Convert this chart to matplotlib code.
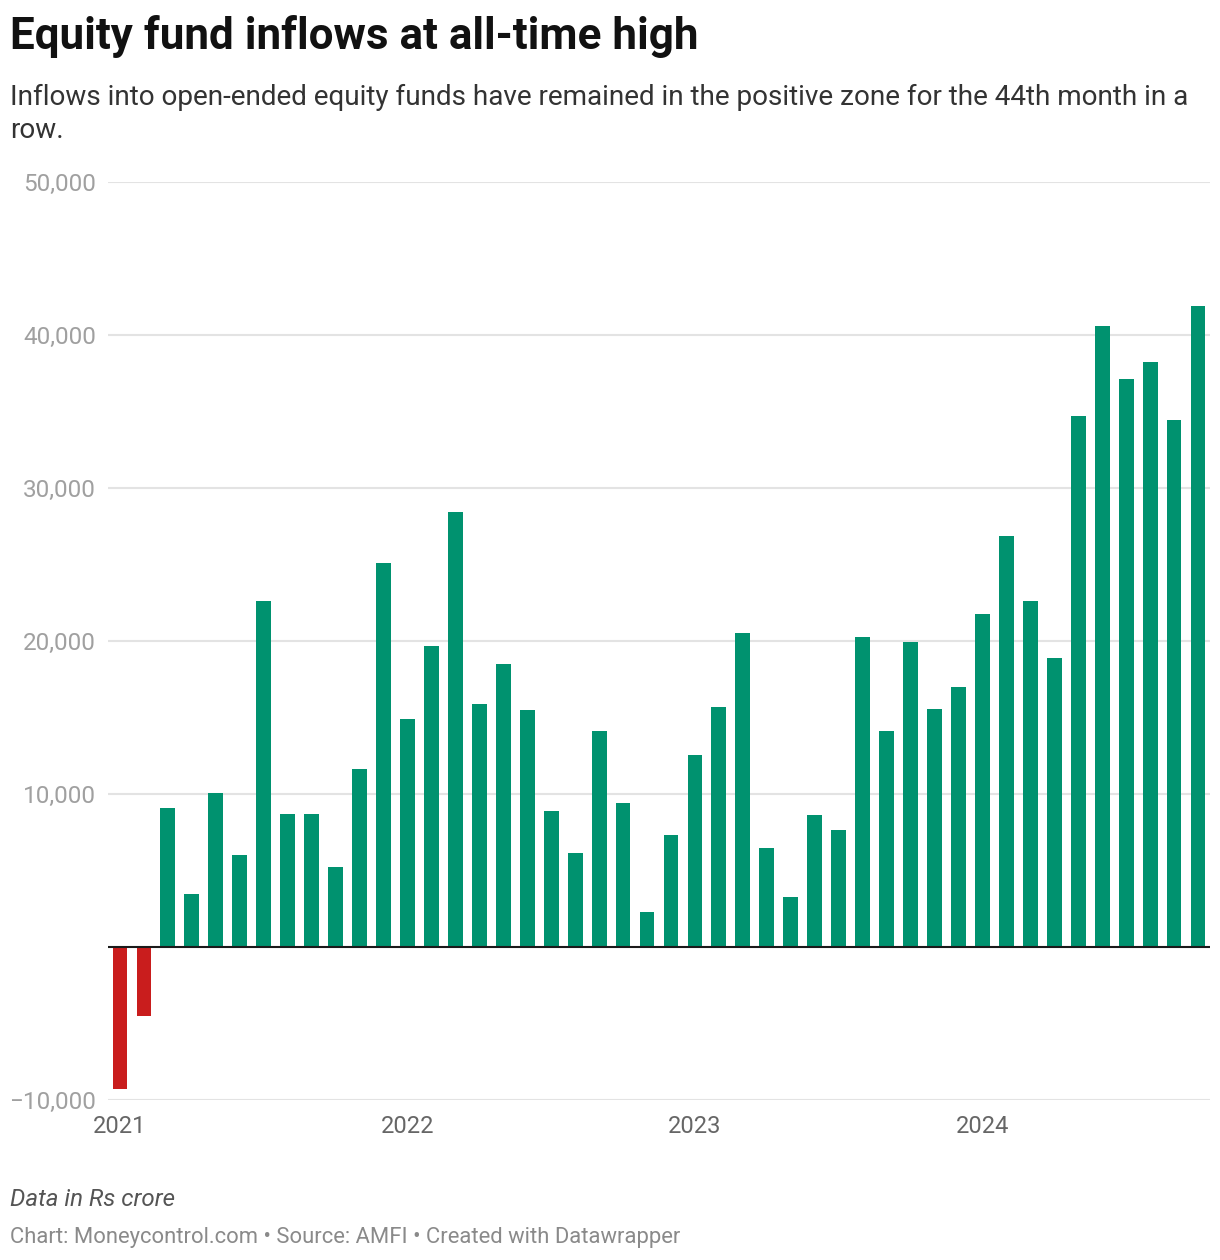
import matplotlib.pyplot as plt
import numpy as np

plt.rcParams['font.family'] = ['Roboto', 'DejaVu Sans']

# Monthly net inflows into open-ended equity funds, Jan 2021 - Oct 2024 (Rs crore)
months = np.arange(46)
inflows = [
    -9253, -4534, 9115, 3437, 10083, 5988, 22583, 8666, 8677, 5215, 11615, 25077,   # 2021
    14888, 19705, 28463, 15890, 18529, 15498, 8898, 6120, 14100, 9390, 2258, 7303,  # 2022
    12546, 15685, 20534, 6480, 3240, 8637, 7626, 20245, 14091, 19957, 15536, 16997, # 2023
    21781, 26866, 22633, 18917, 34697, 40608, 37113, 38239, 34419, 41887,           # 2024
]
year_pos = [0, 12, 24, 36]
year_labels = ['2021', '2022', '2023', '2024']
y_ticks = [-10000, 0, 10000, 20000, 30000, 40000, 50000]

green = '#00926f'
red = '#c91d1d'
colors = [green if v >= 0 else red for v in inflows]

fig = plt.figure(figsize=(12.2, 12.6), dpi=100)
ax = fig.add_axes([108 / 1220, 1 - 1100 / 1260, (1210 - 108) / 1220, (1100 - 182) / 1260])

ax.bar(months, inflows, width=0.62, color=colors, zorder=3)

ax.set_xlim(-0.5, 45.5)
ax.set_ylim(-10000, 50000)

for t in y_ticks:
    if t == 0:
        continue
    ax.axhline(t, color='#e3e3e3', lw=1.5, zorder=1)
ax.axhline(0, color='#1a1a1a', lw=1.5, zorder=4)

ax.set_yticks(y_ticks)
ax.set_yticklabels(['\u221210,000' if t < 0 else ('' if t == 0 else f'{t:,}') for t in y_ticks])
ax.tick_params(axis='y', length=0, pad=8.5, labelsize=17.5, labelcolor='#a0a0a0')
ax.set_xticks(year_pos)
ax.set_xticklabels(year_labels)
ax.tick_params(axis='x', length=0, pad=11, labelsize=17, labelcolor='#666666')

for s in ax.spines.values():
    s.set_visible(False)

fig.text(10 / 1220, 1 - 37 / 1260, 'Equity fund inflows at all-time high', fontsize=31.7,
         fontweight='bold', color='#111111', va='center', ha='left')
fig.text(10 / 1220, 1 - 114 / 1260,
         'Inflows into open-ended equity funds have remained in the positive zone for the 44th month in a\nrow.',
         fontsize=20.1, color='#333333', va='center', ha='left', linespacing=1.3)
fig.text(10 / 1220, 1 - 1200 / 1260, 'Data in Rs crore', fontsize=17.4, style='italic',
         color='#555555', va='center', ha='left')
fig.text(10 / 1220, 1 - 1237 / 1260,
         'Chart: Moneycontrol.com \u2022 Source: AMFI \u2022 Created with Datawrapper',
         fontsize=15.8, color='#8a8a8a', va='center', ha='left')

fig.savefig('out.png', dpi=100, facecolor='white')
